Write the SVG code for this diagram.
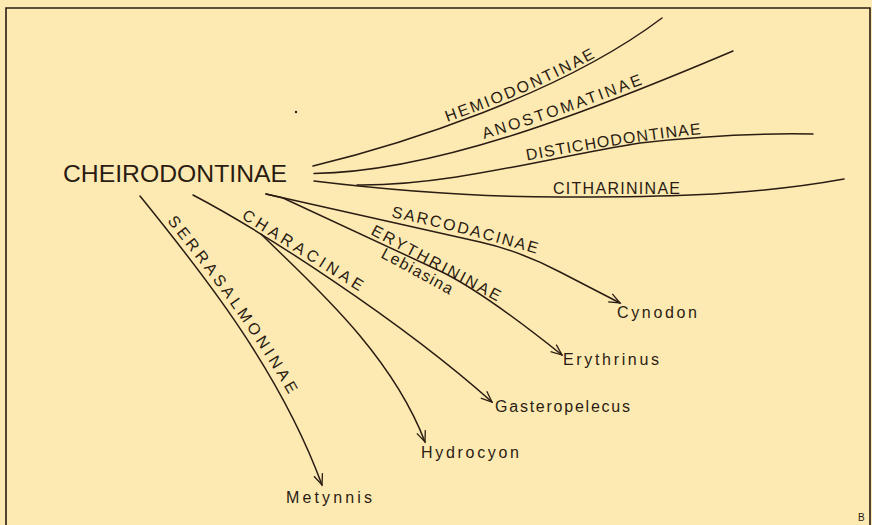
<svg xmlns="http://www.w3.org/2000/svg" width="872" height="525" viewBox="0 0 872 525">
<style>
.ln{fill:none;stroke:#2a1c12;stroke-width:1.5;stroke-linecap:round}
.cap{font-family:"Liberation Sans",Arial,sans-serif;font-size:16px;fill:#2a1c12}
.gen{font-family:"Liberation Sans",Arial,sans-serif;font-size:16px;fill:#2a1c12}
.frame{fill:none;stroke:#2a1c12;stroke-width:1.6}
</style>
<defs>
<marker id="arr" markerUnits="userSpaceOnUse" markerWidth="14" markerHeight="12" refX="12" refY="6" orient="auto">
<path d="M1,1.5 L12,6 L1,10.5" fill="none" stroke="#2a1c12" stroke-width="1.3"/>
</marker>
<path id="tp-hemi" d="M447,122 Q533,92 596,57"/>
<path id="tp-anos" d="M484,139 Q558,117 643,84"/>
<path id="tp-dist" d="M527,160.5 Q632,141 702,134"/>
<path id="tp-cith" d="M553,194 L680,194"/>
<path id="tp-sarc" d="M391,217 Q459,231 537,254"/>
<path id="tp-eryt" d="M370,234 L498,302"/>
<path id="tp-lebi" d="M380,257 L450,295"/>
<path id="tp-char" d="M241,218 L360,292"/>
<path id="tp-serr" d="M167,221 Q250,325 289,395"/>
</defs>
<rect width="872" height="525" fill="#fdeab3"/>
<path class="frame" d="M6,526 L6,8 L870,8 L870,526"/>
<circle cx="296" cy="112" r="1.2" fill="#2a1c12"/>

<g id="connectors">
<path class="ln" d="M313,166 C400,145 560,95 662,18"/>
<path class="ln" d="M314,173.5 C430,172 575,118 733,51"/>
<path class="ln" d="M357,185 C450,186 550,157 640,143 C700,136 760,133 813,134"/>
<path class="ln" d="M314,181 C380,189 460,197 560,197 C630,197 740,198 844,179"/>
<path class="ln" d="M266,194 L480,242 Q520,251 560,272 L620,303" marker-end="url(#arr)"/>
<path class="ln" d="M266,194 L283,198 L440,271 Q482,291 562,355" marker-end="url(#arr)"/>
<path class="ln" d="M193,195 C260,230 400,320 492,402" marker-end="url(#arr)"/>
<path class="ln" d="M261,234 C305,278 390,350 425,442" marker-end="url(#arr)"/>
<path class="ln" d="M140,196 C200,270 280,370 322,485" marker-end="url(#arr)"/>
</g>

<g id="node-cheirodontinae"><text x="63" y="182" font-family="Liberation Sans, Arial, sans-serif" font-size="24" fill="#2a1c12" textLength="224" lengthAdjust="spacingAndGlyphs">CHEIRODONTINAE</text></g>
<g id="node-hemiodontinae"><text class="cap"><textPath href="#tp-hemi" textLength="162" lengthAdjust="spacing">HEMIODONTINAE</textPath></text></g>
<g id="node-anostomatinae"><text class="cap"><textPath href="#tp-anos" textLength="168" lengthAdjust="spacing">ANOSTOMATINAE</textPath></text></g>
<g id="node-distichodontinae"><text class="cap"><textPath href="#tp-dist" textLength="176" lengthAdjust="spacing">DISTICHODONTINAE</textPath></text></g>
<g id="node-citharininae"><text class="cap"><textPath href="#tp-cith" textLength="127" lengthAdjust="spacing">CITHARININAE</textPath></text></g>
<g id="node-sarcodacinae"><text class="cap"><textPath href="#tp-sarc" textLength="150" lengthAdjust="spacing">SARCODACINAE</textPath></text></g>
<g id="node-erythrininae"><text class="cap"><textPath href="#tp-eryt" textLength="144" lengthAdjust="spacing">ERYTHRININAE</textPath></text></g>
<g id="node-lebiasina"><text class="gen" font-size="13"><textPath href="#tp-lebi" textLength="79" lengthAdjust="spacing">Lebiasina</textPath></text></g>
<g id="node-characinae"><text class="cap"><textPath href="#tp-char" textLength="139" lengthAdjust="spacing">CHARACINAE</textPath></text></g>
<g id="node-serrasalmoninae"><text class="cap"><textPath href="#tp-serr" textLength="212" lengthAdjust="spacing">SERRASALMONINAE</textPath></text></g>

<g id="node-cynodon"><text class="gen" x="617" y="318" textLength="80" lengthAdjust="spacing">Cynodon</text></g>
<g id="node-erythrinus"><text class="gen" x="563" y="365" textLength="96" lengthAdjust="spacing">Erythrinus</text></g>
<g id="node-gasteropelecus"><text class="gen" x="495" y="412" textLength="135" lengthAdjust="spacing">Gasteropelecus</text></g>
<g id="node-hydrocyon"><text class="gen" x="421" y="458" textLength="98" lengthAdjust="spacing">Hydrocyon</text></g>
<g id="node-metynnis"><text class="gen" x="286" y="503" textLength="86" lengthAdjust="spacing">Metynnis</text></g>
<text x="858" y="521" font-family="Liberation Sans, Arial, sans-serif" font-size="10" fill="#2a1c12">B</text>
</svg>
